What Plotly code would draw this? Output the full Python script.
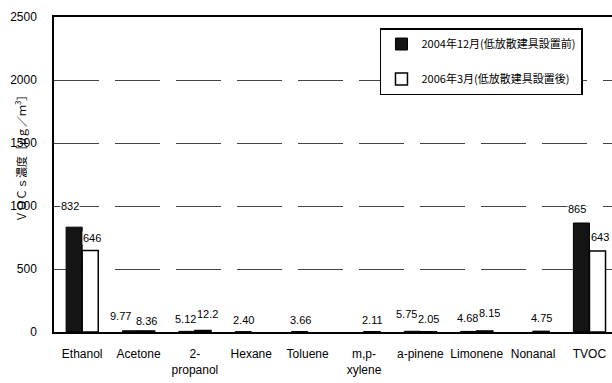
import plotly.graph_objects as go

# Compounds measured (x-axis categories)
categories = ["Ethanol", "Acetone", "2-<br>propanol", "Hexane", "Toluene",
              "m,p-<br>xylene", "a-pinene", "Limonene", "Nonanal", "TVOC"]

# VOC concentrations [ug/m3]; None = not detected
before_2004 = [832, 9.77, 5.12, 2.40, 3.66, None, 5.75, 4.68, None, 865]
after_2006 = [646, 8.36, 12.2, None, None, 2.11, 2.05, 8.15, 4.75, 643]

series_names = ["2004年12月(低放散建具設置前)", "2006年3月(低放散建具設置後)"]

# Axis ticks
y_ticks = [0, 500, 1000, 1500, 2000, 2500]

# Pixel nudges for value labels (dx, dy above bar top)
nudge_2004 = [(-4, 21), (-10, 15), (-1, 12), (0, 12), (1, 12), None, (-6, 17), (-1, 13), None, (-4, 14)]
nudge_2006 = [(2, 13), (0, 10), (5, 16.5), None, None, (0, 12), (0, 13), (5, 18), (0, 13), (3, 14)]

NUM_FONT = "Liberation Sans, Arial, sans-serif"
JP_FONT = "Noto Sans CJK JP, sans-serif"

x_idx = list(range(len(categories)))

fig = go.Figure()
fig.add_trace(go.Bar(
    x=x_idx, y=before_2004, name=series_names[0], legendgroup="a",
    marker=dict(color="#141414", line=dict(color="black", width=1)),
))
fig.add_trace(go.Bar(
    x=x_idx, y=after_2006, name=series_names[1], legendgroup="b",
    marker=dict(color="white", line=dict(color="black", width=1.5)),
))


def fmt(v):
    return str(int(round(v))) if v >= 100 else f"{v:#.3g}"


half = 0.142  # half of one bar's width in category units
for vals, nudges, off in ((before_2004, nudge_2004, -half), (after_2006, nudge_2006, half)):
    for i, (v, n) in enumerate(zip(vals, nudges)):
        if v is None:
            continue
        dx, dy = n
        fig.add_annotation(
            x=i + off, y=v, xref="x", yref="y", text=fmt(v), showarrow=False,
            xanchor="center", yanchor="middle", xshift=dx, yshift=dy,
            font=dict(family=NUM_FONT, size=11, color="black"),
            bgcolor="white", borderpad=0,
        )

# Rotated y-axis title
fig.add_annotation(
    x=20, y=156, xref="paper", yref="paper", showarrow=False,
    text="ＶＯＣｓ濃度［μｇ／ｍ<sup>3</sup>］", textangle=-90,
    xanchor="center", yanchor="middle",
    font=dict(family=JP_FONT, size=11, color="black"),
)
# convert the pixel position above into paper coordinates
plot_l, plot_t, plot_w, plot_h = 54, 17, 558, 315
ann = fig.layout.annotations[-1]
ann.x = (ann.x - plot_l) / plot_w
ann.y = 1 - (ann.y - plot_t) / plot_h

fig.update_layout(
    width=612, height=383,
    margin=dict(l=54, r=0, t=17, b=51),
    paper_bgcolor="white", plot_bgcolor="white",
    barmode="group", bargap=0.43, bargroupgap=0,
    showlegend=True,
    legend=dict(
        x=0.948, y=0.965, xanchor="right", yanchor="top",
        bgcolor="white", bordercolor="black", borderwidth=1.5,
        font=dict(family=JP_FONT, size=11, color="black"),
        traceorder="grouped", tracegroupgap=16, itemwidth=30,
    ),
    xaxis=dict(
        tickmode="array", tickvals=x_idx, ticktext=categories,
        range=[-0.5, 9.4], showgrid=False, tickangle=0,
        showline=True, linecolor="black", linewidth=1.5, mirror=True,
        ticks="", tickfont=dict(family=NUM_FONT, size=12, color="black"),
        ticklabelstandoff=10,
    ),
    yaxis=dict(
        range=[0, 2500], tickvals=y_ticks, showgrid=True,
        gridcolor="#444", gridwidth=1, griddash="45px,16px",
        showline=True, linecolor="black", linewidth=1.5,
        ticks="", tickfont=dict(family=NUM_FONT, size=12, color="black"),
        ticklabelstandoff=13, zeroline=False,
    ),
)

fig.write_html("out.html")
